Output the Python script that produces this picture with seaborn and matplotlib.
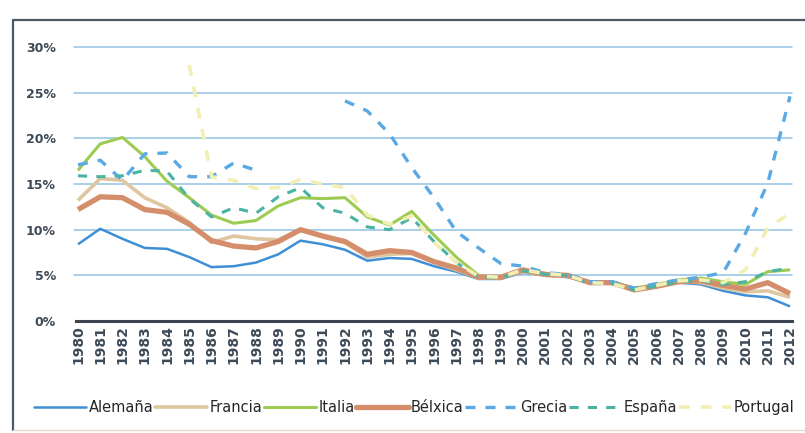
import numpy as np
import pandas as pd
import matplotlib
matplotlib.use("Agg")
import matplotlib.pyplot as plt
from matplotlib.lines import Line2D
import seaborn as sns

years = list(range(1980, 2013))
nan = np.nan

alemana = [8.4, 10.1, 9.0, 8.0, 7.9, 7.0, 5.9, 6.0, 6.4, 7.3, 8.8, 8.4, 7.8, 6.6, 6.9, 6.8, 6.0, 5.4, 4.6, 4.6,
           5.3, 5.0, 4.8, 4.3, 4.2, 3.4, 3.8, 4.2, 4.0, 3.3, 2.8, 2.6, 1.6]
francia = [13.2, 15.6, 15.4, 13.5, 12.4, 10.8, 8.6, 9.3, 9.0, 8.9, 10.0, 9.2, 8.6, 7.0, 7.3, 7.4, 6.4, 5.6, 4.7, 4.7,
           5.4, 5.0, 4.9, 4.2, 4.1, 3.5, 3.8, 4.3, 4.2, 3.6, 3.2, 3.3, 2.6]
italia = [16.5, 19.4, 20.1, 18.0, 15.3, 13.5, 11.6, 10.7, 11.0, 12.6, 13.5, 13.4, 13.5, 11.4, 10.5, 12.0, 9.4, 7.0, 5.0, 4.8,
          5.6, 5.2, 5.0, 4.3, 4.3, 3.6, 4.0, 4.5, 4.7, 4.3, 4.0, 5.4, 5.6]
belxica = [12.2, 13.6, 13.5, 12.2, 11.9, 10.6, 8.8, 8.2, 8.0, 8.7, 10.0, 9.3, 8.7, 7.3, 7.7, 7.5, 6.5, 5.8, 4.8, 4.8,
           5.6, 5.1, 5.0, 4.2, 4.2, 3.4, 3.8, 4.3, 4.4, 3.9, 3.5, 4.2, 3.0]
grecia = [17.1, 17.6, 15.4, 18.3, 18.4, 15.8, 15.8, 17.3, 16.5, nan, nan, nan, 24.1, 23.0, 20.5, 16.8, 13.5, 9.8, 8.0, 6.3,
          6.0, 5.3, 5.1, 4.3, 4.3, 3.6, 4.1, 4.5, 4.8, 5.3, 9.6, 15.1, 24.6]
espana = [15.9, 15.8, 15.9, 16.5, 16.4, 13.4, 11.4, 12.4, 11.8, 13.6, 14.6, 12.4, 11.8, 10.3, 10.0, 11.3, 8.7, 6.4, 4.8, 4.7,
          5.5, 5.1, 5.0, 4.1, 4.1, 3.4, 3.8, 4.3, 4.4, 4.0, 4.3, 5.4, 5.8]
portugal = [nan, nan, nan, nan, nan, 28.0, 15.8, 15.4, 14.5, 14.6, 15.5, 15.0, 14.6, 11.6, 10.6, 11.5, 8.6, 6.4, 4.9, 4.8,
            5.6, 5.2, 5.0, 4.2, 4.1, 3.4, 3.9, 4.4, 4.5, 4.2, 5.6, 10.2, 11.8]

series_names = ["Alemaña", "Francia", "Italia", "Bélxica", "Grecia", "España", "Portugal"]
series_values = [alemana, francia, italia, belxica, grecia, espana, portugal]
y_ticks = [0, 5, 10, 15, 20, 25, 30]
y_tick_labels = ["0%", "5%", "10%", "15%", "20%", "25%", "30%"]

styles = {
    "Alemaña": dict(color="#3f8fd6", lw=1.8, dash=None),
    "Francia": dict(color="#dfc6a0", lw=2.6, dash=None),
    "Italia": dict(color="#9ccc52", lw=2.2, dash=None),
    "Bélxica": dict(color="#d58e6c", lw=3.8, dash=None),
    "Grecia": dict(color="#5ba9e4", lw=2.4, dash=(3, 3)),
    "España": dict(color="#4bb3a3", lw=2.2, dash=(3, 3)),
    "Portugal": dict(color="#f2efb4", lw=2.6, dash=(3, 3)),
}

sns.set_style("white")
plt.rcParams["font.family"] = ["Liberation Sans Narrow", "DejaVu Sans"]

fig = plt.figure(figsize=(8.05, 4.33), dpi=100)
W, H = 805, 433
ax = fig.add_axes([78 / W, (H - 321) / H, (790 - 78) / W, (321 - 47) / H])

for name, vals in zip(series_names, series_values):
    st = styles[name]
    df = pd.DataFrame({"year": years, "value": vals})
    # split into contiguous runs so gaps stay gaps
    df["grp"] = df["value"].isna().cumsum()
    df = df.dropna()
    for g, sub in df.groupby("grp"):
        sns.lineplot(x=sub["year"], y=sub["value"], ax=ax, color=st["color"], linewidth=st["lw"],
                     legend=False, clip_on=False)
        if st["dash"] is not None:
            ax.lines[-1].set_dashes(st["dash"])
        ax.lines[-1].set_solid_capstyle("butt")
        ax.lines[-1].set_dash_capstyle("butt")

ax.set_xlim(1980, 2012)
ax.set_ylim(0, 30)
ax.set_yticks(y_ticks)
ax.set_yticklabels(y_tick_labels, fontsize=9, fontweight="bold", color="#3d4a57")
ax.set_xticks(years)
ax.set_xticklabels([str(y) for y in years], rotation=90, fontsize=10, fontweight="bold", color="#3d4a57")
ax.tick_params(axis="both", length=0)
ax.tick_params(axis="y", pad=16)
ax.tick_params(axis="x", pad=3)
ax.set_xlabel("")
ax.set_ylabel("")
for sp in ["top", "right", "left"]:
    ax.spines[sp].set_visible(False)
ax.spines["bottom"].set_color("#3a4550")
ax.spines["bottom"].set_linewidth(2.2)
ax.spines["bottom"].set_bounds(1979.9, 2012.1)
for yv in y_ticks[1:]:
    ax.axhline(yv, xmin=-0.005, xmax=1.003, color="#93c2e4", lw=1.1, zorder=0, clip_on=False)

# frame of the figure
fig.add_artist(Line2D([13 / W, 1.0], [(H - 20) / H] * 2, color="#4a5a66", lw=1.6))
fig.add_artist(Line2D([13 / W] * 2, [(H - 20) / H, 3 / H], color="#4a5a66", lw=1.6))
fig.add_artist(Line2D([13 / W, 1.0], [3 / H] * 2, color="#e8d8d0", lw=1.0))

handles = []
for name in series_names:
    st = styles[name]
    h = Line2D([], [], color=st["color"], lw=st["lw"])
    if st["dash"] is not None:
        h.set_linestyle((0, st["dash"]))
    handles.append(h)

fig.legend(handles, series_names, loc="lower left", ncol=7, mode="expand",
           bbox_to_anchor=(28 / W, 12 / H, (800 - 28) / W, 26 / H), frameon=False,
           fontsize=10.5, handlelength=3.6, handletextpad=0.15, borderaxespad=0)

fig.savefig("out.png", dpi=100)
